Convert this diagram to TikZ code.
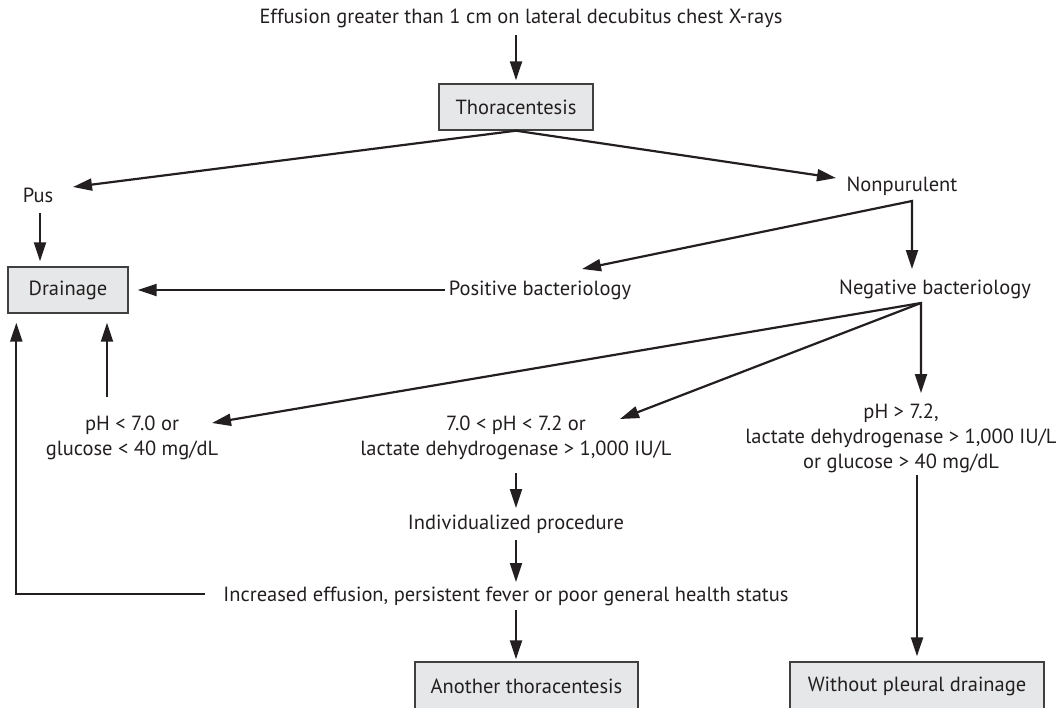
\documentclass[tikz,border=0pt]{standalone}
\usepackage{fontspec}
\setmainfont{PT Sans}
\usetikzlibrary{arrows.meta,calc}
\definecolor{ink}{HTML}{231F20}
\definecolor{boxfill}{HTML}{E6E7E8}
\definecolor{boxline}{HTML}{404041}
\newlength\reflen
\AtBeginDocument{%
  \settowidth\reflen{\normalfont\fontsize{10pt}{12pt}\selectfont Effusion greater than 1 cm on lateral decubitus chest X-rays}%
  \pgfmathsetmacro\fs{5230/\reflen}%
}
\tikzset{
  txt/.style={inner sep=0pt, text=ink, align=center, font=\fontsize{\fs pt}{25pt}\selectfont},
  boxn/.style={txt, draw=boxline, fill=boxfill, line width=1.4pt},
  ln/.style={draw=ink, line width=2.2pt},
  tipA/.tip={Triangle[length=19pt,width=12pt]},
  arr/.style={ln, -tipA},
  arr2/.style={ln, tipA-tipA},
}
\begin{document}
\begin{tikzpicture}[x=1pt,y=-1pt]
\useasboundingbox (0,0) rectangle (1064,707);
\fill[white] (0,0) rectangle (1064,707);

\node[txt] (top) at (521,18) {Effusion greater than 1 cm on lateral decubitus chest X-rays};
\node[boxn, minimum width=154pt, minimum height=46pt] (thor) at (516,107) {Thoracentesis};
\node[txt] (pus) at (38,195) {Pus};
\node[boxn, minimum width=120pt, minimum height=46pt] (drain) at (68,290) {Drainage};
\node[txt] (posbac) at (540,290) {Positive bacteriology};
\node[txt] (nonpur) at (902,186) {Nonpurulent};
\node[txt] (negbac) at (935,289) {Negative bacteriology};
\node[txt] (c1) at (132,438) {pH < 7.0 or\\glucose < 40 mg/dL};
\node[txt] (c2) at (516,438) {7.0 < pH < 7.2 or\\lactate dehydrogenase > 1,000 IU/L};
\node[txt] (c3) at (901,438) {pH > 7.2,\\lactate dehydrogenase > 1,000 IU/L\\or glucose > 40 mg/dL};
\node[txt] (indiv) at (516,524) {Individualized procedure};
\node[txt] (incr) at (506,596) {Increased effusion, persistent fever or poor general health status};
\node[boxn, minimum width=223pt, minimum height=48pt] (another) at (526.5,686) {Another thoracentesis};
\node[boxn, minimum width=254pt, minimum height=48pt] (without) at (917,686) {Without pleural drainage};

\coordinate (npc) at ($(nonpur.center)+(10,15)$);
\coordinate (nbc) at ($(negbac.center)+(-14,14)$);

\draw[arr] ($(top.center -| thor.center)+(0,17)$) -- ($(thor.north)+(0,-3)$);
\draw[arr2] ($(pus.center)+(35,-8)$) -- (thor.south) -- ($(nonpur.center)+(-66,-8)$);
\draw[arr] ($(pus.center)+(2,18)$) -- ($(pus.center |- drain.north)+(2,-5)$);
\draw[arr] ($(posbac.center)+(-95,0)$) -- ($(drain.east)+(9,0)$);
\draw[arr2] ($(posbac.center)+(42,-21)$) -- (npc) -- ($(npc |- negbac.center)+(0,-20)$);
\draw[arr2] ($(c1.center)+(80,-15)$) -- (nbc) -- ($(nbc |- c3.center)+(0,-45)$);
\draw[arr] (nbc) -- ($(c2.center)+(104,-19)$);
\draw[arr] ($(c1.center)+(-25,-41)$) -- ($(c1.center |- drain.south)+(-25,9)$);
\draw[arr] ($(incr.center)+(-301,-2)$) -| ($(drain.south west)+(9,9)$);
\draw[arr] ($(c2.center)+(0,35)$) -- ($(indiv.center)+(0,-16)$);
\draw[arr] ($(indiv.center)+(0,16)$) -- ($(incr.center -| indiv.center)+(0,-14)$);
\draw[arr] ($(incr.center -| indiv.center)+(0,14)$) -- ($(another.north -| indiv.center)+(0,-2)$);
\draw[arr] ($(c3.center -| without.north)+(0,37)$) -- ($(without.north)+(0,-5)$);
\end{tikzpicture}
\end{document}
